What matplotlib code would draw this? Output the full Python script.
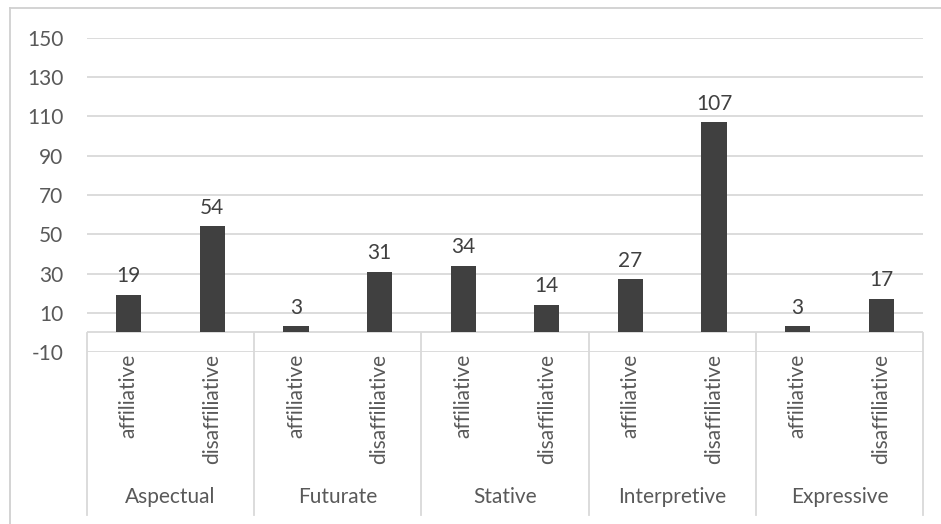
import matplotlib
matplotlib.use("Agg")
import matplotlib.pyplot as plt
from matplotlib.lines import Line2D

groups = ["Aspectual", "Futurate", "Stative", "Interpretive", "Expressive"]
subcats = ["affiliative", "disaffiliative"]
values = [19, 54, 3, 31, 34, 14, 27, 107, 3, 17]
yticks = [-10, 10, 30, 50, 70, 90, 110, 130, 150]

W, H = 941, 524
fig = plt.figure(figsize=(W / 100, H / 100), dpi=100)
plt.rcParams['font.family'] = ['Lato', 'DejaVu Sans']

txt = "#595959"
grid = "#d9d9d9"
fs = 15

left, right = 87 / W, 923 / W
bottom, top = (H - 352) / H, (H - 38) / H
ax = fig.add_axes([left, bottom, right - left, top - bottom])

n = len(values)
x = list(range(n))
ax.bar(x, values, width=0.3, color="#404040", zorder=3)
for xi, v in zip(x, values):
    ax.text(xi, v + 4.5, str(v), ha="center", va="bottom", fontsize=fs, color="#404040")

ax.set_xlim(-0.5, n - 0.5)
ax.set_ylim(-10, 150)
ax.set_yticks(yticks)
ax.set_yticklabels([str(t) for t in yticks], fontsize=fs, color=txt)
ax.tick_params(axis="y", length=0, pad=17)
ax.set_xticks([])
for s in ax.spines.values():
    s.set_visible(False)
for t in yticks:
    ax.axhline(t, color=grid, lw=1.3, zorder=0)
ax.axhline(0, color=grid, lw=1.3, zorder=1)

# category labels (rotated)
sub_top = (H - 354) / H
for i in range(n):
    xf = left + (i + 0.5) / n * (right - left)
    fig.text(xf, sub_top, subcats[i % 2], rotation=90, ha="center", va="top",
             fontsize=fs, color=txt)

# group labels
grp_y = (H - 497) / H
ng = len(groups)
for g in range(ng):
    xf = left + (g + 0.5) / ng * (right - left)
    fig.text(xf, grp_y, groups[g], ha="center", va="center", fontsize=fs, color=txt)

# vertical separators
y0, y1 = (H - 333) / H, (H - 515) / H
for g in range(ng + 1):
    xf = left + g / ng * (right - left)
    fig.add_artist(Line2D([xf, xf], [y0, y1], color=grid, lw=1.3))

# outer border
fig.add_artist(Line2D([10 / W, 1.0], [(H - 8) / H, (H - 8) / H], color="#d0d0d0", lw=1.3))
fig.add_artist(Line2D([10 / W, 10 / W], [(H - 8) / H, 0], color="#d0d0d0", lw=1.3))

fig.savefig("out.png", dpi=100, facecolor="white")
